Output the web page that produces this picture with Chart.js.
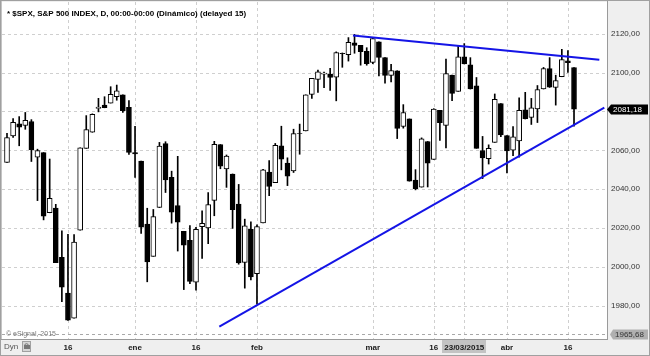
<!DOCTYPE html>
<html>
<head>
<meta charset="utf-8">
<script src="https://cdn.jsdelivr.net/npm/chart.js@4"></script>
<style>
html,body{margin:0;padding:0;background:#fff;}
#wrap{width:650px;height:356px;position:relative;}
canvas{display:block;}
</style>
</head>
<body>
<div id="wrap"><canvas id="c" width="650" height="356"></canvas></div>
<script>
// ---- DATA (daily S&P 500) ----
const dates = ['2014-12-02','2014-12-03','2014-12-04','2014-12-05','2014-12-08','2014-12-09','2014-12-10','2014-12-11','2014-12-12','2014-12-15','2014-12-16','2014-12-17','2014-12-18','2014-12-19','2014-12-22','2014-12-23','2014-12-24','2014-12-26','2014-12-29','2014-12-30','2014-12-31',
'2015-01-02','2015-01-05','2015-01-06','2015-01-07','2015-01-08','2015-01-09','2015-01-12','2015-01-13','2015-01-14','2015-01-15','2015-01-16','2015-01-20','2015-01-21','2015-01-22','2015-01-23','2015-01-26','2015-01-27','2015-01-28','2015-01-29','2015-01-30',
'2015-02-02','2015-02-03','2015-02-04','2015-02-05','2015-02-06','2015-02-09','2015-02-10','2015-02-11','2015-02-12','2015-02-13','2015-02-17','2015-02-18','2015-02-19','2015-02-20','2015-02-23','2015-02-24','2015-02-25','2015-02-26','2015-02-27',
'2015-03-02','2015-03-03','2015-03-04','2015-03-05','2015-03-06','2015-03-09','2015-03-10','2015-03-11','2015-03-12','2015-03-13','2015-03-16','2015-03-17','2015-03-18','2015-03-19','2015-03-20','2015-03-23','2015-03-24','2015-03-25','2015-03-26','2015-03-27','2015-03-30','2015-03-31',
'2015-04-01','2015-04-02','2015-04-06','2015-04-07','2015-04-08','2015-04-09','2015-04-10','2015-04-13','2015-04-14','2015-04-15','2015-04-16','2015-04-17'];

const opens = [2053.77,2067.45,2073.64,2072.78,2074.84,2056.55,2058.86,2027.92,2030.36,2005.03,1986.71,1973.77,2018.98,2061.04,2069.28,2081.48,2083.25,2084.30,2087.63,2088.49,2082.11,
2058.90,2054.44,2022.15,2005.55,2030.61,2063.45,2046.13,2031.58,2018.40,2013.75,1992.25,2020.76,2020.19,2034.30,2062.98,2050.42,2047.86,2032.34,2002.45,2019.35,
1996.67,2022.71,2048.86,2043.45,2062.28,2053.47,2049.38,2068.55,2069.98,2088.78,2096.47,2099.16,2099.25,2097.65,2109.83,2109.10,2115.30,2113.91,2110.88,
2105.23,2115.76,2107.72,2098.54,2100.91,2072.25,2076.14,2044.69,2041.10,2064.56,2055.35,2080.59,2072.84,2098.69,2090.32,2107.99,2103.94,2093.10,2059.94,2055.78,2064.11,2084.05,
2067.63,2060.03,2064.87,2080.79,2076.94,2081.29,2091.51,2102.03,2092.28,2097.82,2105.96,2102.58];

const highs = [2068.77,2076.28,2077.34,2079.47,2075.78,2060.60,2058.86,2055.53,2032.25,2018.69,2016.89,2016.75,2061.23,2077.85,2078.76,2086.73,2087.56,2092.70,2093.55,2088.49,2085.58,
2072.36,2054.44,2030.25,2029.61,2064.08,2064.43,2049.30,2056.93,2018.40,2021.35,2020.46,2028.94,2038.29,2064.62,2062.98,2057.62,2047.86,2042.49,2024.64,2023.32,
2021.66,2050.30,2054.74,2063.55,2072.40,2056.16,2070.86,2073.48,2088.53,2097.03,2101.30,2100.23,2102.13,2110.61,2110.05,2117.94,2119.59,2113.91,2112.74,
2117.52,2115.76,2107.72,2104.25,2100.91,2083.49,2076.14,2050.08,2066.41,2064.56,2081.41,2080.59,2106.85,2098.69,2113.92,2114.86,2107.63,2097.43,2067.15,2062.83,2088.97,2084.05,
2067.63,2072.17,2086.99,2089.81,2086.69,2093.31,2102.61,2107.65,2098.62,2111.91,2111.30,2102.58];

const lows = [2053.77,2066.65,2062.34,2070.81,2054.27,2034.17,2024.26,2027.92,2002.33,1982.26,1972.56,1973.77,2018.98,2061.03,2069.28,2079.77,2081.86,2084.30,2085.75,2079.53,2057.94,
2046.04,2017.34,1992.44,2005.55,2030.61,2038.33,2022.58,2008.25,1988.44,1991.47,1988.12,2004.49,2012.04,2026.38,2050.54,2040.97,2019.91,2001.49,1989.18,1993.38,
1980.90,2022.71,2036.72,2043.45,2049.97,2041.88,2048.62,2057.99,2069.98,2086.70,2089.80,2092.15,2090.79,2085.44,2102.68,2105.87,2109.89,2103.76,2103.75,
2104.50,2098.26,2094.49,2095.22,2066.04,2071.39,2044.16,2039.69,2041.10,2041.17,2055.35,2065.08,2061.23,2085.56,2090.32,2104.42,2091.50,2061.05,2045.50,2052.96,2064.11,2067.04,
2048.38,2057.32,2056.52,2076.10,2073.30,2074.29,2091.51,2092.33,2083.24,2097.82,2100.02,2072.37];

const closes = [2066.55,2074.33,2071.92,2075.37,2060.31,2059.82,2026.14,2035.33,2002.33,1989.63,1972.74,2012.89,2061.23,2070.65,2078.54,2082.17,2081.88,2088.77,2090.57,2080.35,2058.90,
2058.20,2020.58,2002.61,2025.90,2062.14,2044.81,2028.26,2023.03,2011.27,1992.67,2019.42,2022.55,2032.12,2063.15,2051.82,2057.09,2029.55,2002.16,2021.25,1994.99,
2020.85,2050.03,2041.51,2062.52,2055.47,2046.74,2068.59,2068.53,2088.48,2096.99,2100.34,2099.68,2097.45,2110.30,2109.66,2115.48,2113.86,2110.74,2104.50,
2117.39,2107.78,2098.53,2101.04,2071.26,2079.43,2044.16,2040.24,2065.95,2053.40,2081.19,2074.28,2099.50,2089.27,2108.10,2104.42,2091.50,2061.05,2056.15,2061.02,2086.24,2067.89,
2059.69,2066.96,2080.62,2076.33,2081.90,2091.18,2102.06,2092.43,2095.84,2106.63,2104.99,2081.18];

const yTicks = [1980, 2000, 2020, 2040, 2060, 2080, 2100, 2120];
const xTickIdx = [10, 21, 31, 41, 60, 70, 82, 92];
const xTickLabels = ['16', 'ene', '16', 'feb', 'mar', '16', 'abr', '16'];
const cursorIdx = 75;
const cursorLabel = '23/03/2015';
const upperTrend = [{x: 56.75, y: 2119.0}, {x: 97.15, y: 2106.5}];
const lowerTrend = [{x: 34.82, y: 1969.4}, {x: 97.97, y: 2082.0}];
const lowMark = 1965.68;
const titleText = '* $SPX, S&P 500 INDEX, D, 00:00-00:00 (Dinámico) (delayed 15)';

// ---- build ----
const fmt = v => v.toFixed(2).replace('.', ',');
const bodyData = dates.map((d, i) => ({x: i, y: [opens[i], closes[i]]}));
const wickData = dates.map((d, i) => ({x: i, y: [lows[i], highs[i]]}));
const bodyColors = dates.map((d, i) => closes[i] >= opens[i] ? '#ffffff' : '#000000');
const FONT = '"Liberation Sans", Arial, sans-serif';

function hline(ctx, x1, x2, y) { ctx.beginPath(); ctx.moveTo(x1, y); ctx.lineTo(x2, y); ctx.stroke(); }
function vline(ctx, x, y1, y2) { ctx.beginPath(); ctx.moveTo(x, y1); ctx.lineTo(x, y2); ctx.stroke(); }

const decor = {
  id: 'decor',
  beforeDraw(chart) {
    const {ctx, chartArea: a} = chart;
    const xs = chart.scales.x, ys = chart.scales.y;
    ctx.save();
    ctx.fillStyle = '#efefef';
    ctx.fillRect(0, 0, chart.width, chart.height);
    ctx.fillStyle = '#ffffff';
    ctx.fillRect(a.left, a.top, a.right - a.left, a.bottom - a.top);
    ctx.lineWidth = 1;
    ctx.setLineDash([3, 3]);
    ctx.strokeStyle = '#cfcfcf';
    yTicks.forEach(v => hline(ctx, a.left, a.right, Math.round(ys.getPixelForValue(v)) + 0.5));
    xTickIdx.concat([cursorIdx]).forEach(i => vline(ctx, Math.round(xs.getPixelForValue(i)) + 0.5, a.top, a.bottom));
    ctx.strokeStyle = '#a8a8a8';
    hline(ctx, a.left, a.right, Math.round(ys.getPixelForValue(lowMark)) + 0.5);
    ctx.restore();
  },
  afterDraw(chart) {
    const {ctx, chartArea: a} = chart;
    const xs = chart.scales.x, ys = chart.scales.y;
    ctx.save();
    // frame lines
    ctx.lineWidth = 1;
    ctx.strokeStyle = '#9a9a9a';
    vline(ctx, a.right + 0.5, 0, a.bottom + 1);
    hline(ctx, 0, a.right + 1, a.bottom + 0.5);
    ctx.strokeStyle = '#a0a0a0';
    ctx.strokeRect(0.5, 0.5, chart.width - 1, chart.height - 1);
    ctx.strokeStyle = '#c4c4c4';
    vline(ctx, 1.5, 1, a.bottom);

    // title
    ctx.fillStyle = '#000';
    ctx.font = 'bold 8px ' + FONT;
    ctx.textAlign = 'left';
    ctx.textBaseline = 'alphabetic';
    ctx.fillText(titleText, 7, 16);

    // copyright
    ctx.fillStyle = '#7a7a7a';
    ctx.font = '7px ' + FONT;
    ctx.fillText('\u00a9 eSignal, 2015', 6, 336);

    // x labels
    ctx.font = 'bold 8px ' + FONT;
    ctx.textAlign = 'center';
    ctx.textBaseline = 'middle';
    ctx.fillStyle = '#1a1a1a';
    xTickIdx.forEach((i, k) => ctx.fillText(xTickLabels[k], xs.getPixelForValue(i), 348));
    const cx = xs.getPixelForValue(cursorIdx);
    const cw = ctx.measureText(cursorLabel).width + 4;
    ctx.fillStyle = '#c3c3c3';
    ctx.fillRect(Math.round(cx - cw / 2), a.bottom + 1, Math.round(cw), 13);
    ctx.fillStyle = '#1a1a1a';
    ctx.fillText(cursorLabel, cx, 348);

    // Dyn + lock
    ctx.textAlign = 'left';
    ctx.font = '8px ' + FONT;
    ctx.fillStyle = '#555';
    ctx.fillText('Dyn', 4, 347);
    ctx.fillStyle = '#d6d6d6';
    ctx.fillRect(22, 341, 9, 11);
    ctx.strokeStyle = '#a0a0a0';
    ctx.strokeRect(22.5, 341.5, 8, 10);
    ctx.strokeStyle = '#777';
    ctx.beginPath(); ctx.arc(26.5, 345.5, 1.8, Math.PI, 0); ctx.stroke();
    ctx.fillStyle = '#777';
    ctx.fillRect(24, 345, 6, 4);

    // price boxes on the axis
    function priceBox(v, fill, color, tipX, boxL) {
      const yc = ys.getPixelForValue(v);
      const yT = Math.round(yc) - 4.5, yB = Math.round(yc) + 5.5;
      ctx.fillStyle = fill;
      ctx.beginPath();
      ctx.moveTo(tipX, (yT + yB) / 2);
      ctx.lineTo(boxL, yT); ctx.lineTo(648, yT); ctx.lineTo(648, yB); ctx.lineTo(boxL, yB);
      ctx.closePath(); ctx.fill();
      ctx.fillStyle = color;
      ctx.font = '8px ' + FONT;
      ctx.textAlign = 'left';
      ctx.textBaseline = 'middle';
      ctx.fillText(fmt(v), boxL + 2, (yT + yB) / 2 + 0.5);
    }
    priceBox(closes[closes.length - 1], '#000000', '#ffffff', a.right, a.right + 4);
    priceBox(lowMark, '#b0b0b0', '#333333', a.right + 3, a.right + 6);
    ctx.restore();
  }
};

new Chart(document.getElementById('c'), {
  type: 'bar',
  data: {
    datasets: [
      {
        label: 'body', data: bodyData, backgroundColor: bodyColors, borderColor: '#000000',
        borderWidth: 1, borderSkipped: false, barThickness: 5, grouped: false, order: 1
      },
      {
        label: 'wick', data: wickData, backgroundColor: '#000000', borderWidth: 0,
        barThickness: 1, grouped: false, order: 2
      },
      {
        type: 'line', label: 'upper', data: upperTrend, borderColor: '#1414e6', borderWidth: 2,
        pointRadius: 0, tension: 0, order: 0
      },
      {
        type: 'line', label: 'lower', data: lowerTrend, borderColor: '#1414e6', borderWidth: 2,
        pointRadius: 0, tension: 0, order: 0
      }
    ]
  },
  options: {
    responsive: false,
    animation: false,
    devicePixelRatio: 1,
    events: [],
    layout: {padding: {left: 2, top: 2, right: 0, bottom: 0}},
    plugins: {legend: {display: false}, tooltip: {enabled: false}, title: {display: false}},
    scales: {
      x: {
        type: 'linear', min: -0.82, max: 98.41, offset: false,
        grid: {display: false}, border: {display: false},
        ticks: {display: false},
        afterFit(s) { s.height = 17; s.paddingLeft = 0; s.paddingRight = 0; }
      },
      y: {
        type: 'linear', position: 'right', min: 1963.05, max: 2136.23,
        grid: {display: false, drawTicks: false}, border: {display: false},
        afterBuildTicks(s) { s.ticks = yTicks.map(v => ({value: v})); },
        ticks: {
          padding: 4, color: '#333', font: {family: FONT, size: 8},
          callback: v => fmt(v)
        },
        afterFit(s) { s.width = 43; s.paddingTop = 0; s.paddingBottom = 0; }
      }
    }
  },
  plugins: [decor]
});
</script>
</body>
</html>
